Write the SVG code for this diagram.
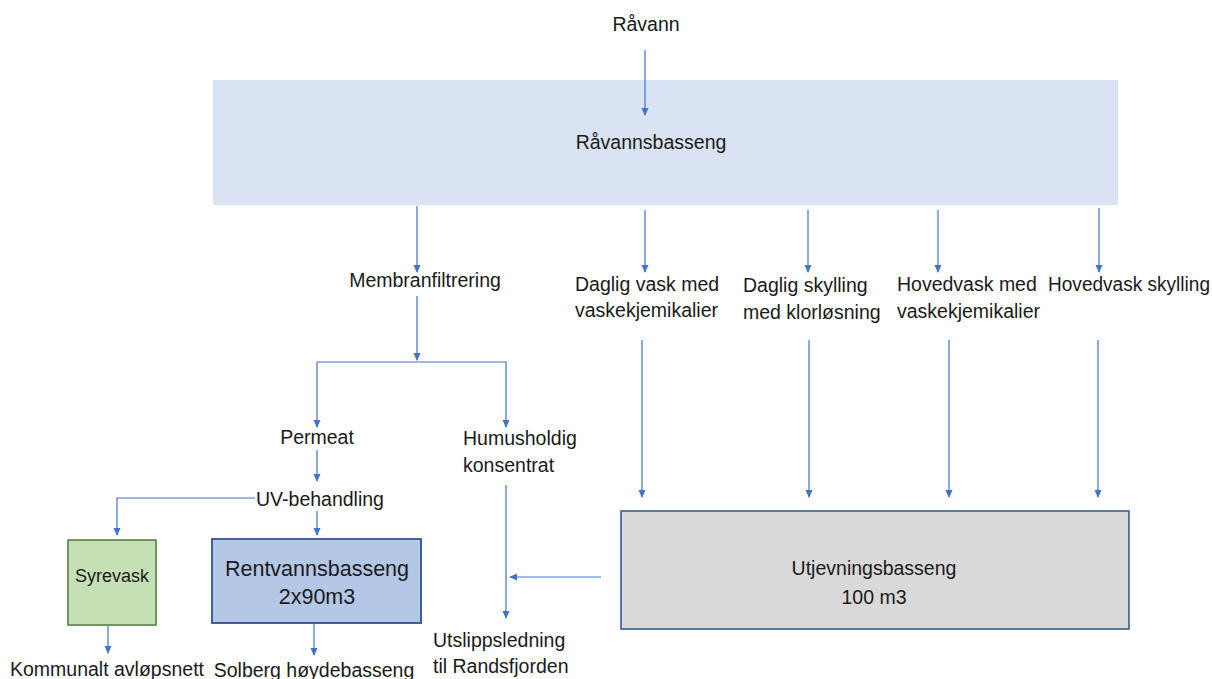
<svg xmlns="http://www.w3.org/2000/svg" width="1212" height="679" viewBox="0 0 1212 679">
<defs>
<marker id="ah" markerWidth="8" markerHeight="8" refX="7" refY="4" orient="auto" markerUnits="userSpaceOnUse">
<path d="M0,0.5 L8,4 L0,7.5 Z" fill="#4472c4"/>
</marker>
</defs>
<style>
text{font-family:"Liberation Sans",Arial,sans-serif;font-size:19.5px;fill:#1a1a1a}
.c{text-anchor:middle}
.ln{fill:none;stroke:#4472c4;stroke-width:1.2}
.ar{marker-end:url(#ah)}
</style>
<rect width="1212" height="679" fill="#ffffff"/>
<g id="ravann"><text class="c" x="646" y="31">Råvann</text></g>
<g id="ravannsbasseng">
<rect x="213" y="80" width="905" height="125" fill="#dae3f3"/>
<text class="c" x="651" y="149">Råvannsbasseng</text>
</g>
<g id="membranfiltrering"><text class="c" x="425" y="287">Membranfiltrering</text></g>
<g id="daglig-vask"><text x="575" y="291">Daglig vask med</text><text x="575" y="317">vaskekjemikalier</text></g>
<g id="daglig-skylling"><text x="743" y="292">Daglig skylling</text><text x="743" y="319">med klorløsning</text></g>
<g id="hovedvask"><text x="897" y="291">Hovedvask med</text><text x="897" y="318">vaskekjemikalier</text></g>
<g id="hovedvask-skylling"><text x="1048" y="291" textLength="162" lengthAdjust="spacingAndGlyphs">Hovedvask skylling</text></g>
<g id="permeat"><text class="c" x="317" y="444">Permeat</text></g>
<g id="humus"><text x="463" y="445">Humusholdig</text><text x="463" y="472">konsentrat</text></g>
<g id="uv"><text class="c" x="320" y="506">UV-behandling</text></g>
<g id="syrevask">
<rect x="68" y="540" width="88" height="85" fill="#c5e0b4" stroke="#4f7a3a" stroke-width="1.5"/>
<text class="c" x="112" y="582" style="font-size:18px">Syrevask</text>
</g>
<g id="rentvann">
<rect x="212" y="539" width="209" height="84" fill="#b4c7e7" stroke="#2f528f" stroke-width="1.8"/>
<text class="c" x="317" y="576" style="font-size:21.5px">Rentvannsbasseng</text>
<text class="c" x="317" y="604" style="font-size:21.5px">2x90m3</text>
</g>
<g id="utjevning">
<rect x="621" y="511" width="508" height="118" fill="#d9d9d9" stroke="#2f528f" stroke-width="1.5"/>
<text class="c" x="874" y="575">Utjevningsbasseng</text>
<text class="c" x="874" y="604">100 m3</text>
</g>
<g id="kommunalt"><text class="c" x="107" y="676">Kommunalt avløpsnett</text></g>
<g id="solberg"><text class="c" x="314" y="677">Solberg høydebasseng</text></g>
<g id="utslipp"><text x="433" y="647">Utslippsledning</text><text x="433" y="673">til Randsfjorden</text></g>
<g id="connectors">
<path class="ln ar" d="M645,50 V115"/>
<path class="ln ar" d="M417,206 V272"/>
<path class="ln ar" d="M417,296 V360"/>
<path class="ln ar" d="M317,362 H506 V427"/>
<path class="ln ar" d="M317,362 V427"/>
<path class="ln ar" d="M317,450 V481"/>
<path class="ln ar" d="M255,498 H117 V535"/>
<path class="ln ar" d="M317,511 V535"/>
<path class="ln ar" d="M108,626 V653"/>
<path class="ln ar" d="M314,624 V655"/>
<path class="ln ar" d="M506,485 V618"/>
<path class="ln ar" d="M601,577 H510"/>
<path class="ln ar" d="M645,210 V272"/>
<path class="ln ar" d="M808,210 V272"/>
<path class="ln ar" d="M938,210 V272"/>
<path class="ln ar" d="M1099,208 V272"/>
<path class="ln ar" d="M642,340 V497"/>
<path class="ln ar" d="M809,340 V497"/>
<path class="ln ar" d="M949,340 V497"/>
<path class="ln ar" d="M1098,340 V497"/>
</g>
</svg>
